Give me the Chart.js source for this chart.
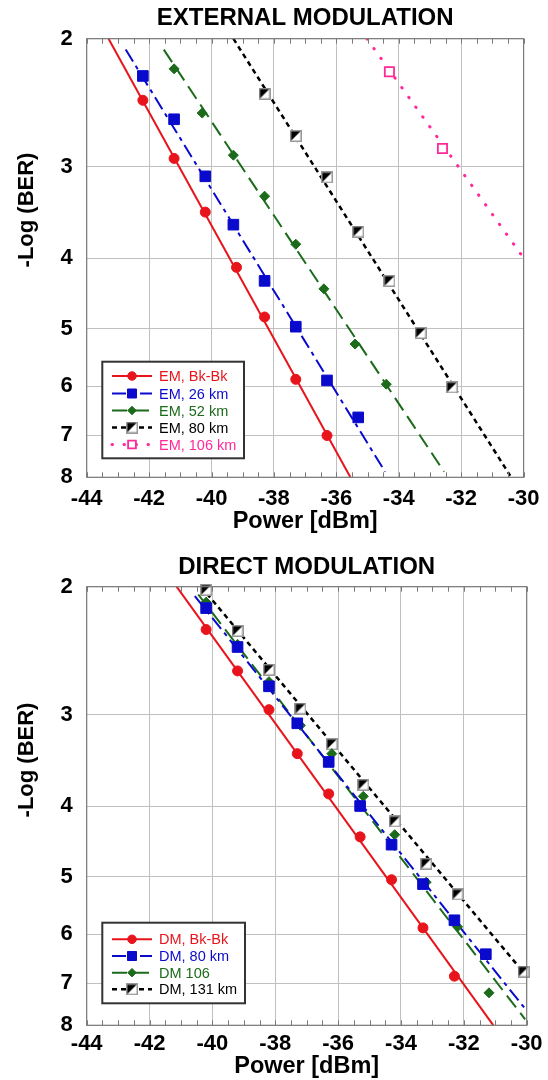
<!DOCTYPE html>
<html>
<head>
<meta charset="utf-8">
<script src="https://cdn.jsdelivr.net/npm/chart.js@4.4.0/dist/chart.umd.min.js"></script>
<style>
  html, body { margin: 0; padding: 0; background: #fff; overflow: hidden; }
  canvas { position: absolute; left: 0; }
</style>
</head>
<body>
<canvas id="emChart" width="548" height="548" style="top:0"></canvas>
<canvas id="dmChart" width="548" height="532" style="top:548px"></canvas>
<script>
// axis ticks
const powerTicks = [-44, -42, -40, -38, -36, -34, -32, -30];
const berTicks = [2, 3, 4, 5, 6, 7, 8];

// External modulation - measured points
const emBkPower = [-42.2, -41.2, -40.2, -39.2, -38.3, -37.3, -36.3];
const emBkBer = [2.43, 2.92, 3.46, 4.12, 4.82, 5.87, 7.01];
const em26Power = [-42.2, -41.2, -40.2, -39.3, -38.3, -37.3, -36.3, -35.3];
const em26Ber = [2.25, 2.58, 3.09, 3.60, 4.30, 4.97, 5.89, 6.62];
const em52Power = [-41.2, -40.3, -39.3, -38.3, -37.3, -36.4, -35.4, -34.4];
const em52Ber = [2.20, 2.53, 2.89, 3.29, 3.83, 4.41, 5.25, 5.96];
const em80Power = [-38.3, -37.3, -36.3, -35.3, -34.3, -33.3, -32.3];
const em80Ber = [2.38, 2.72, 3.10, 3.68, 4.30, 5.07, 6.02];
const em106Power = [-34.3, -32.6];
const em106Ber = [2.22, 2.83];
// External modulation - fitted lines (start, end)
const emBkFitPower = [-43.3, -35.55];
const emBkFitBer = [2, 8];
const em26FitPower = [-42.75, -34.44];
const em26FitBer = [2.07, 7.86];
const em52FitPower = [-41.53, -32.55];
const em52FitBer = [2.07, 7.86];
const em80FitPower = [-39.3, -30.43];
const em80FitBer = [2, 7.96];
const em106FitPower = [-35.02, -30.0];
const em106FitBer = [2, 4.0];

// Direct modulation - measured points
const dmBkPower = [-40.2, -39.2, -38.2, -37.3, -36.3, -35.3, -34.3, -33.3, -32.3];
const dmBkBer = [2.29, 2.61, 2.95, 3.39, 3.85, 4.41, 5.05, 5.88, 6.85];
const dm80Power = [-40.2, -39.2, -38.2, -37.3, -36.3, -35.3, -34.3, -33.3, -32.3, -31.3];
const dm80Ber = [2.14, 2.42, 2.74, 3.08, 3.48, 4.00, 4.52, 5.12, 5.74, 6.39];
const dm106Power = [-40.2, -39.2, -38.2, -37.2, -36.2, -35.2, -34.2, -33.2, -32.2, -31.2];
const dm106Ber = [2.10, 2.40, 2.70, 3.10, 3.39, 3.88, 4.38, 5.09, 5.86, 7.22];
const dm131Power = [-40.2, -39.2, -38.2, -37.2, -36.2, -35.2, -34.2, -33.2, -32.2, -30.1];
const dm131Ber = [2.02, 2.30, 2.60, 2.94, 3.29, 3.74, 4.20, 4.80, 5.29, 6.75];
// Direct modulation - fitted lines (start, end)
const dmBkFitPower = [-41.14, -31.06];
const dmBkFitBer = [2, 8];
const dm80FitPower = [-40.56, -30.02];
const dm80FitBer = [2.06, 7.62];
const dm106FitPower = [-40.45, -30.05];
const dm106FitBer = [2.05, 7.85];
const dm131FitPower = [-40.36, -30.0];
const dm131FitBer = [2, 6.85];

const FONT = '"Liberation Sans", Arial, sans-serif';
const RED = '#e8141c', BLUE = '#0a0acd', GREEN = '#1b6b1b', PINK = '#ff2a9a';

// half black / half white square marker
function halfSquare() {
  const c = document.createElement('canvas');
  c.width = 12; c.height = 12;
  const g = c.getContext('2d');
  g.fillStyle = '#fff';
  g.fillRect(0, 0, 12, 12);
  g.fillStyle = '#000';
  g.beginPath(); g.moveTo(0, 0); g.lineTo(12, 0); g.lineTo(0, 12); g.closePath(); g.fill();
  g.strokeStyle = '#999'; g.lineWidth = 1.5;
  g.strokeRect(0.75, 0.75, 10.5, 10.5);
  return c;
}
const halfSq = halfSquare();

const styles = {
  bk:   { color: RED, lw: 2, dash: [], point: 'circle', r: 5, fill: RED, edge: RED, bw: 1 },
  b26:  { color: BLUE, lw: 2, dash: [14, 5, 4, 5], point: 'rect', r: 7.5, fill: BLUE, edge: BLUE, bw: 1 },
  g52:  { color: GREEN, lw: 2, dash: [15, 7], point: 'rectRot', r: 5, fill: GREEN, edge: GREEN, bw: 1 },
  k80:  { color: '#000', lw: 2.5, dash: [5, 4], point: halfSq, r: 6, fill: '#000', edge: '#000', bw: 1 },
  p106: { color: PINK, lw: 3, dash: [0.5, 11.5], cap: 'round', point: 'rect', r: 6.5, fill: '#fff', edge: PINK, bw: 1.8 }
};

function series(px, py, fitP, fitB, st) {
  return [
    {
      data: fitP.map((p, i) => ({ x: p, y: fitB[i] })),
      showLine: true, borderColor: st.color, borderWidth: st.lw, borderDash: st.dash,
      borderCapStyle: st.cap || 'butt', pointRadius: 0, fill: false, order: 2
    },
    {
      data: px.map((p, i) => ({ x: p, y: py[i] })),
      showLine: false, pointStyle: st.point, pointRadius: st.r, backgroundColor: st.fill,
      borderColor: st.edge, borderWidth: st.bw, order: 1, clip: false
    }
  ];
}

// frame, minor ticks, titles and in-plot legend
const framePlugin = {
  id: 'frame',
  afterDraw(chart, args, o) {
    const { ctx, chartArea: a, scales: { x } } = chart;
    ctx.save();
    ctx.strokeStyle = '#7a7a7a';
    ctx.lineWidth = 1;
    for (let v = powerTicks[0]; v <= powerTicks[powerTicks.length - 1]; v += 0.5) {
      const px = Math.round(x.getPixelForValue(v)) + 0.5;
      ctx.beginPath();
      ctx.moveTo(px, a.top); ctx.lineTo(px, a.top + 5);
      ctx.moveTo(px, a.bottom); ctx.lineTo(px, a.bottom - 5);
      ctx.stroke();
    }
    ctx.lineWidth = 1.2;
    ctx.strokeRect(a.left, a.top, a.right - a.left, a.bottom - a.top);

    ctx.fillStyle = '#000';
    ctx.textAlign = 'center';
    ctx.textBaseline = 'middle';
    ctx.font = 'bold 24px ' + FONT;
    ctx.fillText(o.title, (a.left + a.right) / 2, o.titleY);
    ctx.font = 'bold 23.5px ' + FONT;
    ctx.fillText('Power [dBm]', (a.left + a.right) / 2, o.xTitleY);
    ctx.font = 'bold 22px ' + FONT;
    ctx.save();
    ctx.translate(27, o.yTitleY);
    ctx.rotate(-Math.PI / 2);
    ctx.fillText('-Log (BER)', 0, 0);
    ctx.restore();

    // legend
    const L = o.legend;
    ctx.fillStyle = '#fff';
    ctx.fillRect(L.left, L.top, L.right - L.left, L.bottom - L.top);
    ctx.strokeStyle = '#333';
    ctx.lineWidth = 2;
    ctx.strokeRect(L.left, L.top, L.right - L.left, L.bottom - L.top);
    ctx.font = '14.5px ' + FONT;
    ctx.textAlign = 'left';
    L.items.forEach((it, i) => {
      const y = L.rows[i];
      const st = it.style;
      ctx.save();
      ctx.strokeStyle = st.color;
      ctx.lineWidth = st.lw;
      ctx.lineCap = st.cap || 'butt';
      ctx.setLineDash(st.dash);
      ctx.beginPath(); ctx.moveTo(112, y); ctx.lineTo(152, y); ctx.stroke();
      ctx.restore();
      ctx.fillStyle = st.fill;
      ctx.strokeStyle = st.edge;
      ctx.lineWidth = st.bw;
      Chart.helpers.drawPoint(ctx, { pointStyle: st.point, radius: st.r * 0.85, rotation: 0, borderWidth: st.bw }, 132, y);
      ctx.fillStyle = it.textColor;
      ctx.fillText(it.label, 159, y + 1);
    });
    ctx.restore();
  }
};

function makeChart(id, H, tickPad, datasets, frameOpts) {
  return new Chart(document.getElementById(id), {
    type: 'scatter',
    data: { datasets },
    options: {
      responsive: false,
      animation: false,
      events: [],
      layout: { padding: { top: 38.7, right: 21.3, left: 0, bottom: 0 } },
      plugins: { legend: { display: false }, tooltip: { enabled: false }, frame: frameOpts },
      scales: {
        x: {
          type: 'linear', min: -44, max: -30,
          afterBuildTicks: s => { s.ticks = powerTicks.map(v => ({ value: v })); },
          afterFit: s => { s.height = H - 477.3; },
          grid: { color: '#c0c0c0', lineWidth: 1, drawTicks: false },
          border: { display: false },
          ticks: { autoSkip: false, maxRotation: 0, padding: tickPad, color: '#000',
                   font: { family: FONT, size: 22, weight: 'bold' }, callback: v => String(v) }
        },
        y: {
          type: 'logarithmic', reverse: true, min: 2, max: 8,
          afterBuildTicks: s => { s.ticks = berTicks.map(v => ({ value: v })); },
          afterFit: s => { s.width = 86.7; },
          grid: { color: '#c0c0c0', lineWidth: 1, drawTicks: false },
          border: { display: false },
          ticks: { autoSkip: false, padding: 14, color: '#000',
                   font: { family: FONT, size: 22, weight: 'bold' }, callback: v => String(v) }
        }
      }
    },
    plugins: [framePlugin]
  });
}

makeChart('emChart', 548, 8.5, [].concat(
  series(emBkPower, emBkBer, emBkFitPower, emBkFitBer, styles.bk),
  series(em26Power, em26Ber, em26FitPower, em26FitBer, styles.b26),
  series(em52Power, em52Ber, em52FitPower, em52FitBer, styles.g52),
  series(em80Power, em80Ber, em80FitPower, em80FitBer, styles.k80),
  series(em106Power, em106Ber, em106FitPower, em106FitBer, styles.p106)
), {
  title: 'EXTERNAL MODULATION', titleY: 18, xTitleY: 522, yTitleY: 210,
  legend: {
    left: 102.3, top: 361.7, right: 244, bottom: 458.3,
    rows: [376, 393.5, 410.5, 427.5, 444.5],
    items: [
      { label: 'EM, Bk-Bk', textColor: RED, style: styles.bk },
      { label: 'EM, 26 km', textColor: BLUE, style: styles.b26 },
      { label: 'EM, 52 km', textColor: GREEN, style: styles.g52 },
      { label: 'EM, 80 km', textColor: '#000', style: styles.k80 },
      { label: 'EM, 106 km', textColor: PINK, style: styles.p106 }
    ]
  }
});

makeChart('dmChart', 532, 5, [].concat(
  series(dmBkPower, dmBkBer, dmBkFitPower, dmBkFitBer, styles.bk),
  series(dm80Power, dm80Ber, dm80FitPower, dm80FitBer, styles.b26),
  series(dm106Power, dm106Ber, dm106FitPower, dm106FitBer, styles.g52),
  series(dm131Power, dm131Ber, dm131FitPower, dm131FitBer, styles.k80)
), {
  title: 'DIRECT MODULATION', titleY: 19, xTitleY: 519, yTitleY: 212,
  legend: {
    left: 102.3, top: 374.7, right: 245, bottom: 455.3,
    rows: [391.3, 408, 424.7, 441.3],
    items: [
      { label: 'DM, Bk-Bk', textColor: RED, style: styles.bk },
      { label: 'DM, 80 km', textColor: BLUE, style: styles.b26 },
      { label: 'DM 106', textColor: GREEN, style: styles.g52 },
      { label: 'DM, 131 km', textColor: '#000', style: styles.k80 }
    ]
  }
});
</script>
</body>
</html>
